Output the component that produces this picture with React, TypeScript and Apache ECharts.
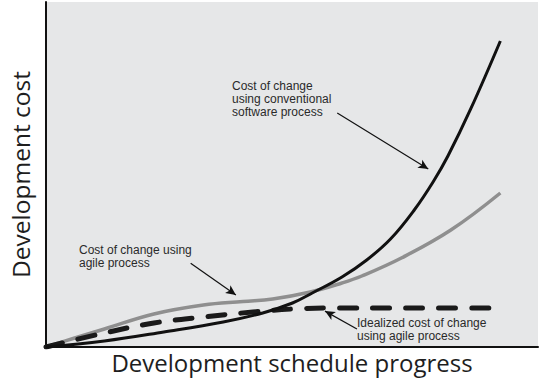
import React, { useEffect, useRef } from "react";
import * as echarts from "echarts";

// x: development schedule progress (0-100), y: development cost (0-100)
const conventional: [number, number][] = [
  [0, 0], [11.87, 1.74], [23.94, 4.35], [36.02, 7.25], [44.06, 9.86], [50.1, 12.75],
  [54.12, 15.65], [60.16, 20.29], [65.19, 25.22], [70.02, 31.3], [74.85, 39.71],
  [78.67, 47.83], [81.69, 55.36], [86.32, 68.99], [92.35, 88.7],
];
const agile: [number, number][] = [
  [0, 0], [5.84, 2.61], [11.87, 5.22], [21.93, 9.57], [31.99, 12.17], [40.04, 13.19],
  [46.08, 13.91], [53.72, 15.94], [60.16, 18.55], [64.19, 20.58], [72.23, 25.8],
  [82.29, 33.91], [92.35, 44.64],
];
const idealized: [number, number][] = [
  [0, 0], [11.87, 4.06], [21.93, 6.96], [31.99, 8.7], [42.05, 10.14], [50.1, 11.01],
  [58.15, 11.3], [70, 11.3], [80, 11.3], [91.8, 11.3],
];
const arrows: [[number, number], [number, number]][] = [
  [[59.2, 67.8], [77.7, 51.6]],
  [[29.4, 24.3], [38.6, 15.1]],
  [[63.2, 5.2], [56.7, 10.4]],
];
const xTitle = "Development schedule progress";
const yTitle = "Development cost";
const notes = [
  "Cost of change\nusing conventional\nsoftware process",
  "Cost of change using\nagile process",
  "Idealized cost of change\nusing agile process",
];

export default function App() {
  const ref = useRef<HTMLDivElement>(null);
  useEffect(() => {
    if (!ref.current) return;
    const chart = echarts.init(ref.current, undefined, { renderer: "svg" });
    const noteStyle = { fill: "#2a2a2a", fontSize: 12, fontFamily: "Liberation Sans, Arial, sans-serif", lineHeight: 13 };
    chart.setOption({
      animation: false,
      backgroundColor: "#ffffff",
      grid: { left: 41, right: 11, top: 2, bottom: 38, show: true, backgroundColor: "#e6e7e8", borderWidth: 0 },
      xAxis: {
        type: "value", min: 0, max: 100,
        axisLine: { show: true, lineStyle: { color: "#111", width: 2 } },
        axisTick: { show: false }, axisLabel: { show: false }, splitLine: { show: false },
        name: xTitle, nameLocation: "middle", nameGap: 3,
        nameTextStyle: { fontSize: 24, color: "#1e1e1e", fontFamily: "Open Sans", verticalAlign: "top" },
      },
      yAxis: {
        type: "value", min: 0, max: 100,
        axisLine: { show: true, lineStyle: { color: "#111", width: 2 } },
        axisTick: { show: false }, axisLabel: { show: false }, splitLine: { show: false },
        name: yTitle, nameLocation: "middle", nameGap: 13,
        nameTextStyle: { fontSize: 24.5, color: "#1e1e1e", fontFamily: "Open Sans" },
      },
      series: [
        {
          type: "line", data: agile, smooth: 0.4, symbol: "none",
          lineStyle: { color: "#8f8f8f", width: 3.5 }, z: 2,
        },
        {
          type: "line", data: idealized, smooth: 0.4, symbol: "none",
          lineStyle: { color: "#1a1a1a", width: 5, type: [17, 16], cap: "round" }, z: 3,
        },
        {
          type: "line", data: conventional, smooth: 0.4, symbol: "none",
          lineStyle: { color: "#111", width: 3 }, z: 4,
          markLine: {
            silent: true, symbol: ["none", "arrow"], symbolSize: [7, 10],
            label: { show: false },
            lineStyle: { color: "#111", width: 1.2, type: "solid" },
            data: arrows.map(([a, b]) => [{ coord: a }, { coord: b }]),
          },
        },
      ],
      graphic: [
        { type: "text", left: 232, top: 79, style: { text: notes[0], ...noteStyle } },
        { type: "text", left: 79, top: 243, style: { text: notes[1], ...noteStyle } },
        { type: "text", left: 357, top: 316, style: { text: notes[2], ...noteStyle } },
      ],
    });
    return () => chart.dispose();
  }, []);
  return <div ref={ref} style={{ position: "fixed", left: 0, top: 0, width: 549, height: 385 }} />;
}
